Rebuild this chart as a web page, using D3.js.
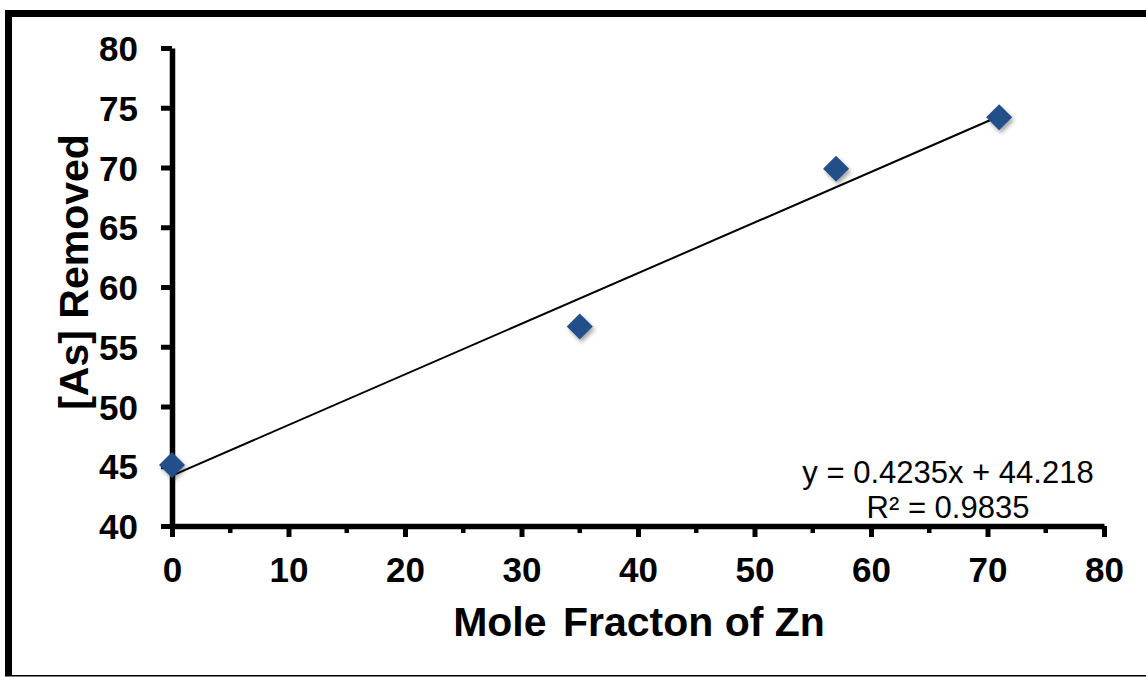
<!DOCTYPE html>
<html><head><meta charset="utf-8">
<script src="https://cdn.jsdelivr.net/npm/d3@7"></script>
<style>body{margin:0;background:#fff}svg{display:block}text{font-family:"Liberation Sans",Arial,sans-serif}</style>
</head><body><svg id="c" width="1146" height="677"></svg>
<script>
const xValues = [0, 35, 57, 71];
const yValues = [45.1, 56.7, 69.9, 74.2];
const xTicks = [0, 10, 20, 30, 40, 50, 60, 70, 80];
const xMinorTicks = [5, 15, 25, 35, 45, 55, 65, 75];
const yTicks = [40, 45, 50, 55, 60, 65, 70, 75, 80];
const trendSlope = 0.4235, trendIntercept = 44.218;
const eqLine1 = "y = 0.4235x + 44.218";
const eqLine2 = "R² = 0.9835";
const xTitleWords = ["Mole", "Fracton of Zn"];
const yTitle = "[As] Removed";

const svg = d3.select("#c");
const defs = svg.append("defs");
const f = defs.append("filter").attr("id","sh").attr("x","-50%").attr("y","-50%").attr("width","200%").attr("height","200%");
f.append("feDropShadow").attr("dx",2).attr("dy",3).attr("stdDeviation",2.2).attr("flood-color","#000").attr("flood-opacity",0.35);

// outer frame
svg.append("rect").attr("x",5).attr("y",10).attr("width",1146).attr("height",7).attr("fill","#000");
svg.append("rect").attr("x",5).attr("y",10).attr("width",7).attr("height",666).attr("fill","#000");
svg.append("rect").attr("x",5).attr("y",675).attr("width",1146).attr("height",1.5).attr("fill","#000");

const x = d3.scaleLinear().domain([0,80]).range([172,1104]);
const y = d3.scaleLinear().domain([40,80]).range([526,48]);

// y axis
const gy = svg.append("g").attr("transform","translate(172,0)")
  .call(d3.axisLeft(y).tickValues(yTicks).tickSize(11).tickPadding(23).tickSizeOuter(0));
gy.select(".domain").attr("stroke","#000").attr("stroke-width",5.5);
gy.selectAll(".tick line").attr("stroke","#000").attr("stroke-width",5);
gy.selectAll(".tick text").attr("font-size",35).attr("font-weight","bold").attr("fill","#000")
  .attr("font-family","Liberation Sans, Arial, sans-serif").attr("dy","0.36em");

// x axis
const gx = svg.append("g").attr("transform","translate(0,526)")
  .call(d3.axisBottom(x).tickValues(xTicks).tickSize(11).tickPadding(20).tickSizeOuter(0));
gx.select(".domain").attr("stroke","#000").attr("stroke-width",5.5);
gx.selectAll(".tick line").attr("stroke","#000").attr("stroke-width",5);
gx.selectAll(".tick text").attr("font-size",35).attr("font-weight","bold").attr("fill","#000")
  .attr("font-family","Liberation Sans, Arial, sans-serif");
gx.selectAll(".minor").data(xMinorTicks).enter().append("line").attr("class","minor")
  .attr("x1",d=>x(d)).attr("x2",d=>x(d)).attr("y1",0).attr("y2",7).attr("stroke","#000").attr("stroke-width",4.5);

// trendline
const xmin = d3.min(xValues), xmax = d3.max(xValues);
svg.append("line").attr("x1",x(xmin)).attr("y1",y(trendIntercept+trendSlope*xmin))
  .attr("x2",x(xmax)).attr("y2",y(trendIntercept+trendSlope*xmax))
  .attr("stroke","#000").attr("stroke-width",2);

// markers
const pts = xValues.map((v,i)=>({x:v,y:yValues[i]}));
const r = 13;
svg.selectAll(".pt").data(pts).enter().append("path").attr("class","pt")
  .attr("d",d=>{const cx=x(d.x), cy=y(d.y); return `M${cx},${cy-r}L${cx+r},${cy}L${cx},${cy+r}L${cx-r},${cy}Z`;})
  .attr("fill","#22508A").attr("filter","url(#sh)");

// equation
svg.append("text").attr("x",948).attr("y",483).attr("text-anchor","middle").attr("font-size",31).attr("fill","#000").text(eqLine1);
svg.append("text").attr("x",948).attr("y",518).attr("text-anchor","middle").attr("font-size",31).attr("fill","#000").text(eqLine2);

// titles
const xt = svg.append("text").attr("x",639).attr("y",636).attr("text-anchor","middle").attr("font-size",41).attr("font-weight","bold").attr("fill","#000");
xt.append("tspan").text(xTitleWords[0]);
xt.append("tspan").attr("dx",5).text(" " + xTitleWords[1]);
svg.append("text").attr("transform","translate(88,272) rotate(-90)").attr("text-anchor","middle").attr("font-size",41).attr("font-weight","bold").attr("fill","#000").text(yTitle);
</script></body></html>
